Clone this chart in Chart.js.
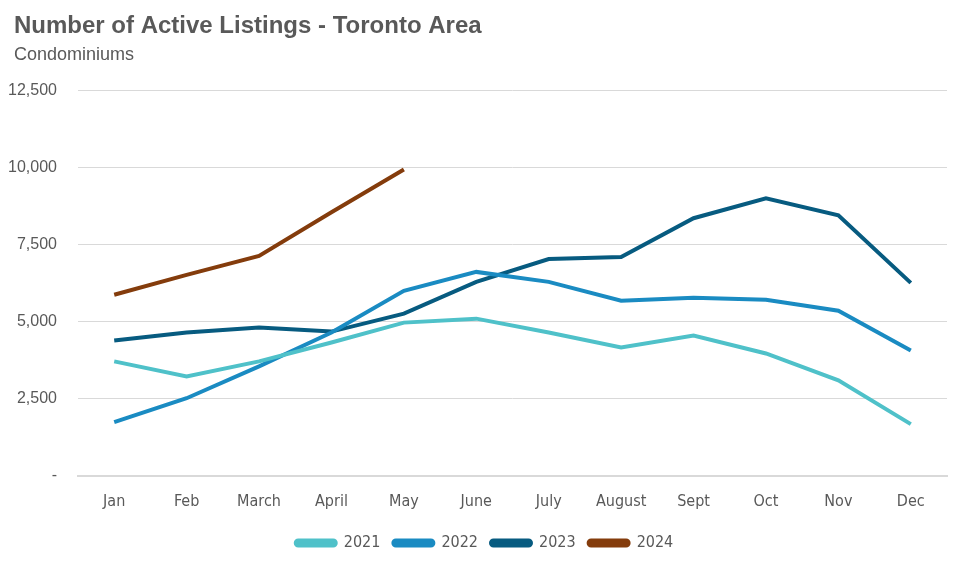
<!DOCTYPE html>
<html>
<head>
<meta charset="utf-8">
<script src="https://cdn.jsdelivr.net/npm/chart.js@4.4.1/dist/chart.umd.min.js"></script>
<style>
  html, body { margin: 0; padding: 0; background: #fff; }
  #wrap { width: 955px; height: 565px; position: relative; }
</style>
</head>
<body>
<div id="wrap"><canvas id="listings-chart"></canvas></div>
<script>
const months = ['Jan', 'Feb', 'March', 'April', 'May', 'June', 'July', 'August', 'Sept', 'Oct', 'Nov', 'Dec'];
const listings2021 = [3710, 3226, 3710, 4323, 4968, 5097, 4645, 4161, 4548, 3968, 3097, 1677];
const listings2022 = [1742, 2516, 3548, 4645, 6000, 6613, 6290, 5677, 5774, 5710, 5355, 4065];
const listings2023 = [4387, 4645, 4806, 4677, 5258, 6290, 7032, 7097, 8355, 9000, 8452, 6258];
const listings2024 = [5871, 6516, 7129, 8548, 9935];
const yTicks = [0, 2500, 5000, 7500, 10000, 12500];

const textGrey = '#595959';
const narrowFont = "'Liberation Sans Narrow', 'DejaVu Sans Condensed', 'Roboto Condensed', Arial, sans-serif";
const arialFont = "Arial, 'Liberation Sans', sans-serif";

function series(label, data, color) {
    return {
        label: label,
        data: data,
        borderColor: color,
        backgroundColor: color,
        borderWidth: 4,
        pointRadius: 0,
        tension: 0,
        fill: false,
    };
}

// nudge title + subtitle in from the left edge (y labels need the full width),
// and centre the legend under the plot rather than the canvas
const layoutNudge = {
    id: 'layoutNudge',
    afterLayout(chart) {
        chart.boxes.forEach(b => {
            if (b.options && typeof b.options.text === 'string') {
                b.left = 14;
            }
        });
        if (chart.legend) {
            chart.legend.left += 11;
            chart.legend.right += 11;
        }
    }
};

const ctx = document.getElementById('listings-chart').getContext('2d');
const listingsChart = new Chart(ctx, {
    type: 'line',
    data: {
        labels: months,
        datasets: [
            series('2021', listings2021, '#4FC1C9'),
            series('2022', listings2022, '#1A8BC2'),
            series('2023', listings2023, '#075B80'),
            series('2024', listings2024, '#843C0C'),
        ]
    },
    options: {
        responsive: true,
        maintainAspectRatio: false,
        animation: false,
        layout: {
            padding: { left: 0, right: 8, top: 12, bottom: 4 }
        },
        plugins: {
            title: {
                display: true,
                align: 'start',
                text: 'Number of Active Listings - Toronto Area',
                color: textGrey,
                font: { family: arialFont, size: 24, weight: 'bold' },
                padding: { top: 0, bottom: 3 }
            },
            subtitle: {
                display: true,
                align: 'start',
                text: 'Condominiums',
                color: textGrey,
                font: { family: arialFont, size: 18 },
                padding: { top: 0, bottom: 25 }
            },
            legend: {
                position: 'bottom',
                labels: {
                    boxWidth: 40,
                    boxHeight: 5,
                    useBorderRadius: true,
                    borderRadius: 2.5,
                    padding: 13,
                    color: textGrey,
                    font: { family: narrowFont, size: 16 }
                }
            },
            tooltip: { enabled: false }
        },
        scales: {
            x: {
                offset: true,
                grid: { display: false },
                border: { display: true, color: '#d9d9d9', width: 2 },
                afterFit: (axis) => { axis.height += 3; },
                ticks: {
                    color: textGrey,
                    padding: 8,
                    font: { family: narrowFont, size: 16 }
                }
            },
            y: {
                min: 0,
                max: 12500,
                afterBuildTicks: (axis) => { axis.ticks = yTicks.map(v => ({ value: v })); },
                afterFit: (axis) => { axis.width = 78; },
                grid: { color: '#d9d9d9', lineWidth: 1, drawTicks: false },
                border: { display: false },
                ticks: {
                    color: textGrey,
                    padding: 21,
                    font: { family: arialFont, size: 16 },
                    callback: (v) => v === 0 ? '-' : v.toLocaleString('en-US')
                }
            }
        }
    },
    plugins: [ layoutNudge ]
});
</script>
</body>
</html>
